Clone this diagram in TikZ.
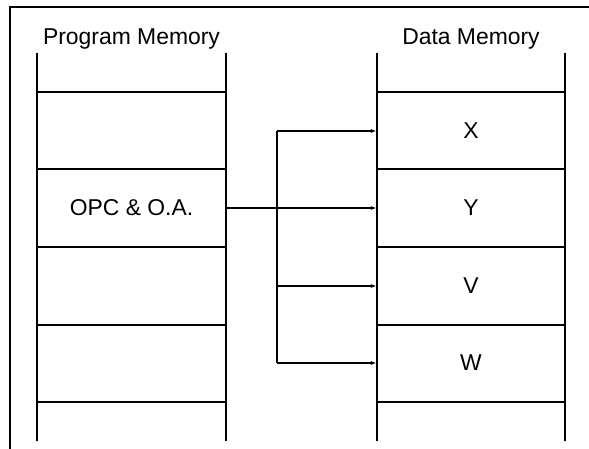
\documentclass[tikz,border=0pt]{standalone}
\usepackage{fontspec}
\setmainfont{Liberation Sans}
\usetikzlibrary{arrows.meta}
\begin{document}
\begin{tikzpicture}[x=1pt,y=-1pt,
  line/.style={line width=2pt},
  arr/.style={line width=2pt,-{Latex[length=6pt,width=4pt]}},
  cell/.style={rectangle,inner sep=0pt,minimum width=189pt,minimum height=77pt,font=\fontsize{22.9pt}{26pt}\selectfont},
  lbl/.style={font=\fontsize{22.9pt}{26pt}\selectfont,anchor=base,inner sep=0pt}]
\useasboundingbox (0,0) rectangle (589,449);
\fill[white] (0,0) rectangle (589,449);
% frame
\draw[line] (589,7) -- (10,7) -- (10,449);
% titles
\node[lbl] (ptitle) at (131.5,45) {Program Memory};
\node[lbl] (dtitle) at (471,45) {Data Memory};
% program memory column
\draw[line] (37,53) -- (37,441);
\draw[line] (226,53) -- (226,441);
\foreach \y in {92,169,247,325,402}{\draw[line] (37,\y) -- (226,\y);}
% data memory column
\draw[line] (377,53) -- (377,441);
\draw[line] (565,53) -- (565,441);
\foreach \y in {92,169,247,325,402}{\draw[line] (377,\y) -- (565,\y);}
% cells
\node[cell] (popc) at (131.5,208) {OPC \& O.A.};
\node[cell,minimum width=188pt] (dx) at (471,131) {X};
\node[cell,minimum width=188pt] (dy) at (471,208) {Y};
\node[cell,minimum width=188pt] (dv) at (471,286) {V};
\node[cell,minimum width=188pt] (dw) at (471,363) {W};
% connectors
\coordinate (bus) at (277,208);
\draw[arr] (popc.east) -- (dy.west);
\draw[line] (bus |- dx.west) -- (bus |- dw.west);
\draw[arr] (bus |- dx.west) -- (dx.west);
\draw[arr] (bus |- dv.west) -- (dv.west);
\draw[arr] (bus |- dw.west) -- (dw.west);
\end{tikzpicture}
\end{document}
